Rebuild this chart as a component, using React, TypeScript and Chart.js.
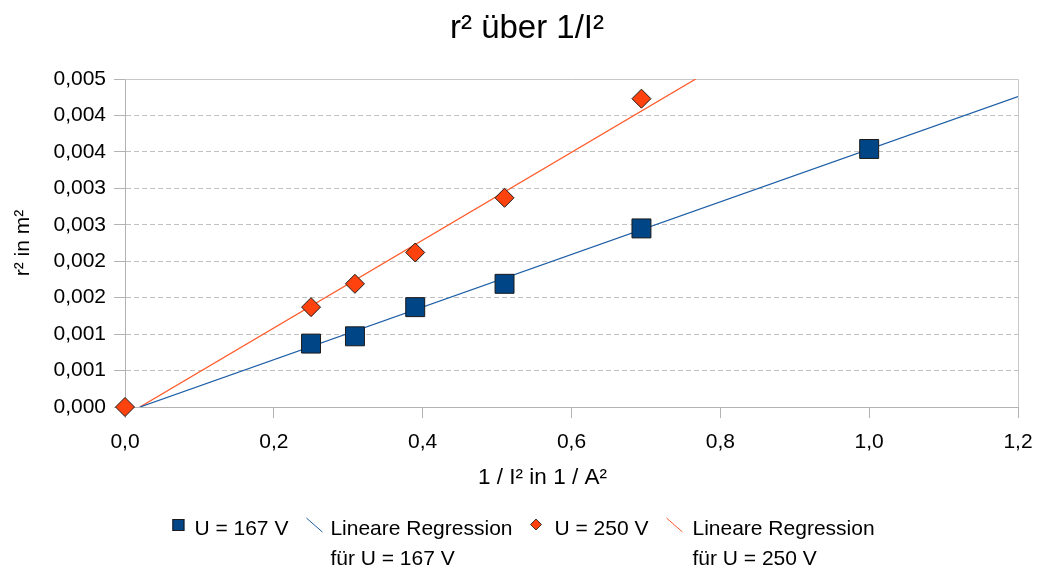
import React, { useEffect, useRef } from "react";
import { Chart, registerables } from "chart.js";

Chart.register(...registerables);

const TITLE = "r² über 1/I²";
const X_TITLE = "1 / I² in 1 / A²";
const Y_TITLE = "r² in m²";

const SERIES_167_LABEL = "U = 167 V";
const SERIES_250_LABEL = "U = 250 V";
const REG_167_LABEL = ["Lineare Regression", "für U = 167 V"];
const REG_250_LABEL = ["Lineare Regression", "für U = 250 V"];

const X_167 = [0.25, 0.309, 0.39, 0.51, 0.694, 1.0];
const Y_167 = [0.00087, 0.00097, 0.00137, 0.00169, 0.00245, 0.00354];
const X_250 = [0, 0.25, 0.309, 0.39, 0.51, 0.694];
const Y_250 = [0, 0.00137, 0.00169, 0.00212, 0.00287, 0.00423];

const REG_167_X = [0.02, 1.2];
const REG_167_Y = [0, 0.00426];
const REG_250_X = [0.02, 0.767];
const REG_250_Y = [0, 0.0045];

const X_TICK_LABELS = ["0,0", "0,2", "0,4", "0,6", "0,8", "1,0", "1,2"];
const Y_TICK_LABELS = ["0,000", "0,001", "0,001", "0,002", "0,002", "0,003", "0,003", "0,004", "0,004", "0,005"];

const X_STEP = 0.2;
const Y_STEP = 0.0005;

const BLUE = "#004586";
const ORANGE = "#ff420e";
const BLUE_LINE = "#1f5fa6";
const ORANGE_LINE = "#ff5a2a";
const FONT = "'Liberation Sans', Arial, sans-serif";

const zip = (xs: number[], ys: number[]) => xs.map((x, i) => ({ x, y: ys[i] }));

const frame = {
  id: "plotFrame",
  beforeDatasetsDraw(chart: any) {
    const { ctx, chartArea } = chart;
    ctx.save();
    ctx.strokeStyle = "#c8c8c8";
    ctx.lineWidth = 1;
    ctx.beginPath();
    ctx.moveTo(chartArea.left, Math.round(chartArea.top) + 0.5);
    ctx.lineTo(Math.round(chartArea.right) + 0.5, Math.round(chartArea.top) + 0.5);
    ctx.lineTo(Math.round(chartArea.right) + 0.5, chartArea.bottom);
    ctx.stroke();
    ctx.restore();
  },
};

const xAxisTitle = {
  id: "xAxisTitle",
  afterDraw(chart: any) {
    const { ctx, width } = chart;
    ctx.save();
    ctx.font = `22.5px ${FONT}`;
    ctx.fillStyle = "#000";
    ctx.textAlign = "center";
    ctx.textBaseline = "middle";
    ctx.fillText(X_TITLE, width / 2 + 24, 478);
    ctx.restore();
  },
};

const legend = {
  id: "customLegend",
  afterDraw(chart: any) {
    const { ctx, width } = chart;
    ctx.save();
    ctx.font = `21px ${FONT}`;
    ctx.fillStyle = "#000";
    ctx.textBaseline = "middle";
    ctx.textAlign = "left";
    const row1 = 529;
    const row2 = 559;
    const mw = (t: string | string[]) =>
      Array.isArray(t) ? Math.max(...t.map((s) => ctx.measureText(s).width)) : ctx.measureText(t).width;
    const items = [
      { kind: "square", w: 12, gap: 10, text: SERIES_167_LABEL },
      { kind: "line", color: BLUE_LINE, w: 16, gap: 8, text: REG_167_LABEL },
      { kind: "diamond", w: 11, gap: 13, text: SERIES_250_LABEL },
      { kind: "line", color: ORANGE_LINE, w: 16, gap: 10, text: REG_250_LABEL },
    ];
    const between = 18;
    let total = 0;
    items.forEach((it, i) => {
      total += it.w + it.gap + mw(it.text as any) + (i < items.length - 1 ? between : 0);
    });
    let x = width / 2 + 5 - total / 2;
    items.forEach((it) => {
      const my = 525;
      if (it.kind === "square") {
        ctx.fillStyle = BLUE;
        ctx.fillRect(x, my - 6, 12, 12);
        ctx.strokeStyle = "#1a1a1a";
        ctx.lineWidth = 1;
        ctx.strokeRect(x + 0.5, my - 5.5, 11, 11);
      } else if (it.kind === "diamond") {
        ctx.fillStyle = ORANGE;
        ctx.beginPath();
        ctx.moveTo(x + 5.5, my - 6);
        ctx.lineTo(x + 11, my - 0.5);
        ctx.lineTo(x + 5.5, my + 5);
        ctx.lineTo(x, my - 0.5);
        ctx.closePath();
        ctx.fill();
        ctx.strokeStyle = "#1a1a1a";
        ctx.lineWidth = 0.8;
        ctx.stroke();
      } else {
        ctx.strokeStyle = (it as any).color;
        ctx.lineWidth = 1;
        ctx.beginPath();
        ctx.moveTo(x, 518);
        ctx.lineTo(x + 16, 532);
        ctx.stroke();
      }
      x += it.w + it.gap;
      ctx.fillStyle = "#000";
      if (Array.isArray(it.text)) {
        ctx.fillText(it.text[0], x, row1);
        ctx.fillText(it.text[1], x, row2);
      } else {
        ctx.fillText(it.text, x, row1);
      }
      x += mw(it.text as any) + between;
    });
    ctx.restore();
  },
};

export default function App() {
  const ref = useRef<HTMLCanvasElement | null>(null);
  useEffect(() => {
    if (!ref.current) return;
    const chart = new Chart(ref.current, {
      type: "scatter",
      data: {
        datasets: [
          {
            label: SERIES_167_LABEL,
            data: zip(X_167, Y_167),
            backgroundColor: BLUE,
            borderColor: "#1a1a1a",
            borderWidth: 1,
            pointStyle: "rect",
            pointRadius: 13.4,
            showLine: false,
            clip: false,
            order: 0,
          },
          {
            label: SERIES_250_LABEL,
            data: zip(X_250, Y_250),
            backgroundColor: ORANGE,
            borderColor: "#1a1a1a",
            borderWidth: 1,
            pointStyle: "rectRot",
            pointRadius: 9.5,
            showLine: false,
            clip: false,
            order: 0,
          },
          {
            label: REG_167_LABEL.join(" "),
            data: zip(REG_167_X, REG_167_Y),
            borderColor: BLUE_LINE,
            borderWidth: 1.3,
            pointRadius: 0,
            showLine: true,
            fill: false,
            order: 1,
          },
          {
            label: REG_250_LABEL.join(" "),
            data: zip(REG_250_X, REG_250_Y),
            borderColor: ORANGE_LINE,
            borderWidth: 1.3,
            pointRadius: 0,
            showLine: true,
            fill: false,
            order: 1,
          },
        ],
      },
      options: {
        responsive: false,
        animation: false,
        events: [],
        layout: { padding: { left: 18, right: 1, top: 0, bottom: 0 } },
        plugins: {
          legend: { display: false },
          tooltip: { enabled: false },
          title: {
            display: true,
            text: TITLE,
            color: "#000",
            font: { family: FONT, size: 33, weight: "normal" },
            padding: { top: 9, bottom: 30.4 },
          },
        },
        scales: {
          x: {
            type: "linear",
            min: 0,
            max: 1.2,
            afterFit: (s: any) => {
              s.height = 161;
              s.paddingRight = 19;
              s.paddingLeft = 0;
            },
            ticks: {
              stepSize: X_STEP,
              color: "#000",
              padding: 12,
              font: { family: FONT, size: 21 },
              callback: (v: any) => X_TICK_LABELS[Math.round(Number(v) / X_STEP)],
            },
            grid: {
              drawOnChartArea: false,
              drawTicks: true,
              tickLength: 11,
              tickColor: "#b3b3b3",
              color: "#b3b3b3",
            },
            border: { color: "#b3b3b3", width: 1 },
            title: { display: false },
          },
          y: {
            type: "linear",
            min: 0,
            max: 0.0045,
            afterFit: (s: any) => {
              s.width = 107;
            },
            ticks: {
              stepSize: Y_STEP,
              color: "#000",
              padding: 8,
              font: { family: FONT, size: 21 },
              callback: (v: any) => Y_TICK_LABELS[Math.round(Number(v) / Y_STEP)],
            },
            grid: {
              color: "#c0c0c0",
              drawTicks: true,
              tickLength: 11,
              tickColor: "#b3b3b3",
              tickBorderDash: [],
            },
            border: { color: "#b3b3b3", width: 1, dash: [5, 3] },
            title: {
              display: true,
              text: Y_TITLE,
              color: "#000",
              font: { family: FONT, size: 21 },
              padding: { top: -7, bottom: 0 },
            },
          },
        },
      },
      plugins: [frame, xAxisTitle, legend],
    } as any);
    return () => chart.destroy();
  }, []);
  return (
    <div style={{ position: "fixed", left: 0, top: 0, width: 1037, height: 568, background: "#fff" }}>
      <canvas ref={ref} width={1037} height={568} style={{ display: "block" }} />
    </div>
  );
}
